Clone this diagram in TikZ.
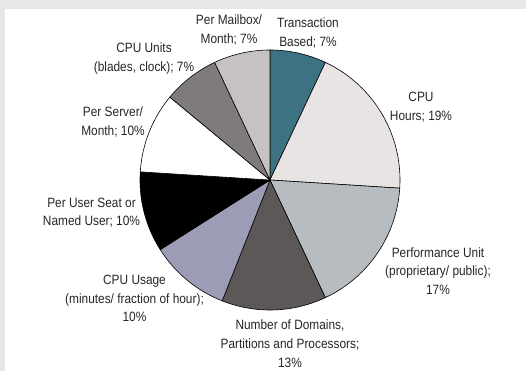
\documentclass[tikz,border=0pt]{standalone}
\usepackage{fontspec}
\setmainfont[FakeStretch=0.88]{Liberation Sans}
\definecolor{framegray}{HTML}{E6E7E8}
\definecolor{txtgray}{HTML}{262626}
\definecolor{cTrans}{HTML}{3C7282}
\definecolor{cHours}{HTML}{E8E4E4}
\definecolor{cPerf}{HTML}{B6BCC0}
\definecolor{cDom}{HTML}{5C5858}
\definecolor{cUsage}{HTML}{9C9CB6}
\definecolor{cSeat}{HTML}{000000}
\definecolor{cServer}{HTML}{FFFFFF}
\definecolor{cUnits}{HTML}{7F7B7B}
\definecolor{cMail}{HTML}{C6C2C2}
\tikzset{
  lbl/.style={text=txtgray, align=center, inner sep=0pt,
    font=\fontsize{13.5pt}{18.7pt}\selectfont},
  wedge/.style={draw=black, line width=0.6pt, line join=round}
}
\newcommand{\slice}[4]{% start angle, end angle, colour, name
  \filldraw[wedge, fill=#3] (ctr) -- ++(#1:130) arc[start angle=#1, end angle=#2, radius=130] -- cycle;
}
\begin{document}
\begin{tikzpicture}[x=1pt,y=1pt]
  % page frame: grey band on top and left, white panel
  \fill[framegray] (0,-371) rectangle (526,0);
  \fill[white] (4.5,-371) rectangle (526,-9);
  \useasboundingbox (0,-371) rectangle (526,0);

  \coordinate (ctr) at (270,-180);

  % pie wedges, counter-clockwise angles
  \slice{64.8}{90}{cTrans}{trans}
  \slice{-3.6}{64.8}{cHours}{hours}
  \slice{-64.8}{-3.6}{cPerf}{perf}
  \slice{-111.6}{-64.8}{cDom}{dom}
  \slice{-147.6}{-111.6}{cUsage}{usage}
  \slice{176.4}{212.4}{cSeat}{seat}
  \slice{140.4}{176.4}{cServer}{server}
  \slice{115.2}{140.4}{cUnits}{units}
  \slice{90}{115.2}{cMail}{mail}

  % labels
  \node[lbl] (lMail)   at (229,-30)  {Per Mailbox/\\Month; 7\%};
  \node[lbl] (lTrans)  at (308,-33)  {Transaction\\Based; 7\%};
  \node[lbl] (lUnits)  at (144,-58.5){CPU Units\\(blades, clock); 7\%};
  \node[lbl] (lHours)  at (421,-107.5){CPU\\Hours; 19\%};
  \node[lbl] (lServer) at (113,-122) {Per Server/\\Month; 10\%};
  \node[lbl] (lSeat)   at (91.5,-212.5){Per User Seat or\\Named User; 10\%};
  \node[lbl] (lPerf)   at (438,-271) {Performance Unit\\(proprietary/ public);\\17\%};
  \node[lbl] (lUsage)  at (134.5,-298.5){CPU Usage\\(minutes/ fraction of hour);\\10\%};
  \node[lbl] (lDom)    at (290,-343.5){Number of Domains,\\Partitions and Processors;\\13\%};
\end{tikzpicture}
\end{document}
